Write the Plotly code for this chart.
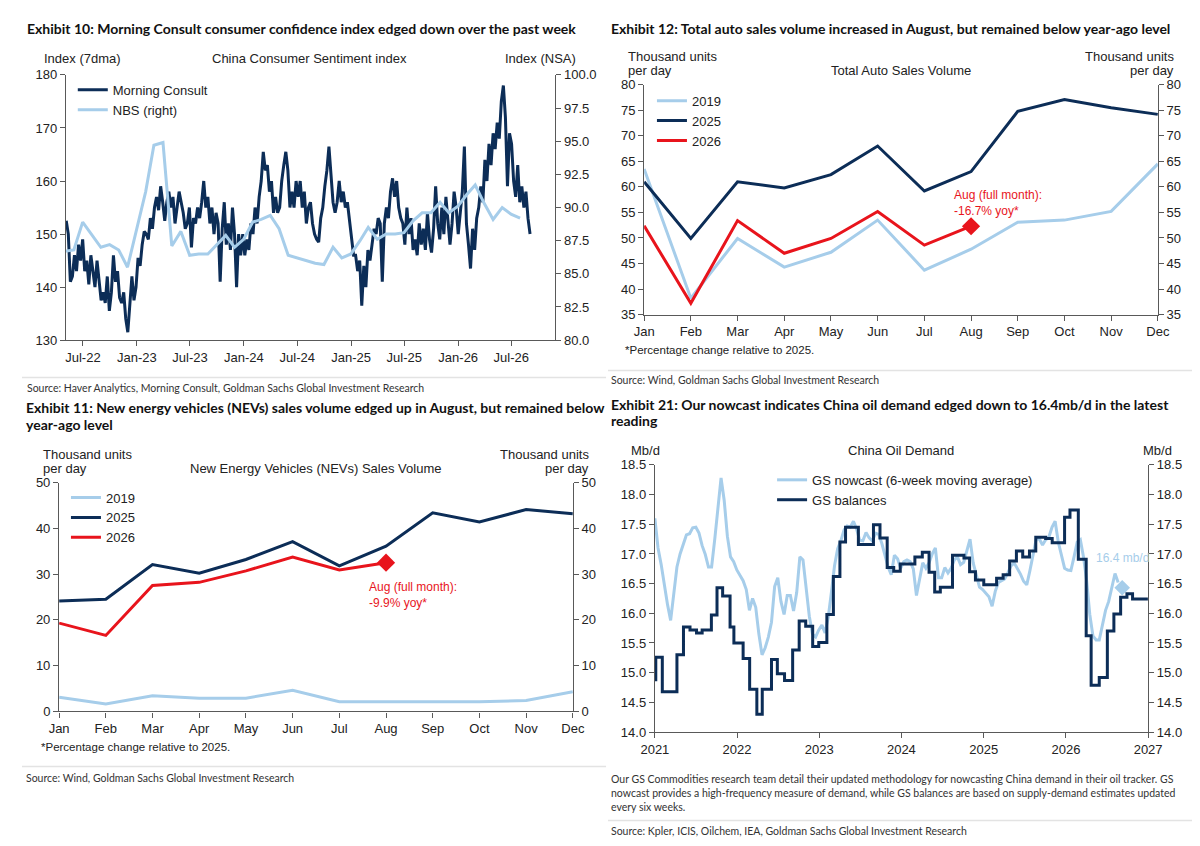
import pandas as pd
import plotly.graph_objects as go

W, H = 1200, 846
BODY = "Liberation Sans"
HEAD = "Lato"
NAVY = "#0c2d57"
LIGHT = "#a6cdea"
RED = "#e8141c"
AXC = "#595959"

# ---- Exhibit 10: China consumer sentiment ----
mc_start = "2022-05-05"  # weekly samples of the 7dma index
morning_consult = [
    152.5, 150, 141, 142, 146, 143, 148, 145,
    149, 143, 145, 140.5, 146, 143, 140, 145, 141, 137.5, 139, 137, 142,
    135.5, 139, 146, 141, 143, 138, 137, 139, 134, 131.5, 137, 142, 137.5,
    140, 145.5, 144, 148, 150.5, 150, 149, 153, 151, 155, 157, 154.5, 159,
    156, 152.5, 156, 158, 155, 157, 152, 155.5, 158, 156, 154, 151, 152,
    155, 147.5, 153, 152, 155, 153, 156, 160, 155, 157, 152, 155, 150,
    154, 152, 141, 151, 156, 148, 152, 147, 155, 150, 140, 150, 146,
    150, 146, 149, 147, 152, 150, 155, 152, 157, 160, 165.5, 162, 163,
    158, 160, 154, 157, 154, 155, 160, 163, 165.5, 162, 155, 158, 155,
    160, 157, 160, 155, 158, 152, 155, 156, 152, 150, 149, 148.5, 153,
    155, 159, 162, 166.5, 162, 156, 154, 156, 160, 156, 158, 155, 156,
    153, 149, 146, 146, 143, 145, 136.5, 144, 140, 147, 145, 148, 151,
    150, 153, 152, 141, 152, 155, 153, 158, 160.5, 157, 160, 155, 153,
    152, 148, 155, 150, 153, 147, 149, 146, 152, 148, 151, 147, 154,
    149, 146.5, 151, 159, 152, 149, 155, 150, 157, 153, 148, 152, 158,
    155, 150, 154, 158, 166.5, 152, 148, 143.5, 151, 147, 153, 155, 159,
    156, 164, 160, 167, 163, 169, 166, 171, 168, 175, 178, 172, 159, 169,
    167, 160, 157, 163, 156, 159, 155, 158, 153, 150,
]
nbs_start = "2022-04-30"  # monthly
nbs = [
    86.7, 86.8, 88.9, 87.9, 87.0, 87.2, 86.8, 85.5, 88.3,
    91.2, 94.7, 94.9, 87.1, 88.2, 86.4, 86.5, 86.5, 87.2, 87.9, 87.0, 87.6,
    88.9, 89.1, 89.4, 88.4, 86.4, 86.2, 86.0, 85.8, 85.7, 87.0, 86.2, 86.5,
    87.5, 88.5, 87.6, 88.0, 88.0, 88.1, 89.0, 89.6, 89.6, 90.4, 89.6, 90.1,
    91.0, 91.7, 90.3, 89.1, 90.0, 89.5, 89.2,
]

# ---- Exhibit 12 / 11: auto sales (thousand units per day) ----
months = ["Jan", "Feb", "Mar", "Apr", "May", "Jun", "Jul", "Aug", "Sep", "Oct", "Nov", "Dec"]
auto_2019 = [63.5, 38.2, 49.9, 44.3, 47.2, 53.5, 43.7, 47.8, 53.1, 53.5, 55.2, 64.5]
auto_2025 = [61.0, 49.9, 61.0, 59.8, 62.4, 68.0, 59.2, 63.0, 74.8, 77.1, 75.5, 74.2]
auto_2026 = [52.4, 37.2, 53.4, 47.0, 49.9, 55.2, 48.6, 52.3]
nev_2019 = [3.1, 1.6, 3.4, 2.9, 2.9, 4.6, 2.1, 2.1, 2.1, 2.1, 2.4, 4.3]
nev_2025 = [24.1, 24.5, 32.1, 30.2, 33.2, 37.1, 31.8, 36.1, 43.4, 41.4, 44.1, 43.2]
nev_2026 = [19.3, 16.6, 27.5, 28.2, 30.7, 33.7, 30.9, 32.5]

# ---- Exhibit 21: China oil demand (mb/d) ----
nowcast_start = "2021-01-01"  # two-weekly samples
nowcast = [
    17.6, 17.1, 16.82, 16.45, 16.15, 15.88, 16.37, 16.78, 17.0, 17.15,
    17.32, 17.34, 17.44, 17.45, 17.35, 17.14, 16.99, 16.78, 16.78, 17.25,
    17.75, 18.28, 17.9, 17.3, 16.95, 16.87, 16.73, 16.65, 16.55, 16.4,
    16.05, 16.25, 16.1, 15.65, 15.3, 15.42, 15.6, 15.85, 16.45, 16.6,
    16.2, 15.98, 16.3, 16.3, 16.04, 16.35, 16.95, 16.9, 16.4, 15.95,
    15.65, 15.6, 15.72, 15.8, 15.67, 15.93, 16.35, 16.8, 17.09, 17.22,
    17.4, 17.47, 17.45, 17.55, 17.42, 17.23, 17.22, 17.36, 17.27, 17.22,
    17.35, 17.33, 17.18, 16.98, 16.78, 16.65, 16.98, 16.92, 16.76, 16.87,
    16.9, 16.87, 16.75, 16.3, 16.59, 16.85, 16.76, 16.85, 17.0, 17.1,
    16.6, 16.6, 16.77, 16.68, 16.76, 16.9, 16.95, 16.82, 16.86, 17.05,
    17.25, 16.85, 16.65, 16.44, 16.4, 16.34, 16.28, 16.12, 16.37, 16.52,
    16.55, 16.58, 16.68, 16.8, 16.85, 16.76, 16.66, 16.54, 16.48, 16.72,
    17.0, 17.25, 17.25, 17.15, 17.24, 17.28, 17.45, 17.55, 17.2, 16.95,
    16.76, 16.73, 16.72, 16.95, 17.2, 17.24, 16.95, 16.55, 15.98, 15.62,
    15.55, 15.55, 15.8, 16.05, 16.2, 16.45, 16.67, 16.52,
]
latest_date = ["2026-09-08"]
latest_value = [16.43]
balance_dates = [
    "2021-01-01", "2021-01-05", "2021-02-03", "2021-04-09", "2021-05-08", "2021-06-06",
    "2021-07-05", "2021-07-30", "2021-09-09", "2021-10-04", "2021-10-29", "2021-12-01",
    "2021-12-18", "2022-01-28", "2022-02-26", "2022-03-30", "2022-04-23", "2022-06-03",
    "2022-06-29", "2022-07-31", "2022-09-05", "2022-10-04", "2022-11-02", "2022-12-03",
    "2022-12-30", "2023-02-04", "2023-03-05", "2023-04-03", "2023-04-28", "2023-06-24",
    "2023-08-30", "2023-09-28", "2023-10-30", "2023-11-28", "2023-12-27", "2024-03-01",
    "2024-04-03", "2024-05-03", "2024-05-28", "2024-06-22", "2024-08-15", "2024-10-05",
    "2024-10-30", "2024-11-25", "2025-01-01", "2025-02-27", "2025-03-28", "2025-04-26",
    "2025-05-26", "2025-06-23", "2025-07-23", "2025-08-20", "2025-10-03", "2025-11-01",
    "2025-12-26", "2026-01-19", "2026-02-25", "2026-04-01", "2026-04-23", "2026-05-29",
    "2026-07-04", "2026-08-02", "2026-09-01", "2026-09-29", "2026-10-24", "2026-12-31",
]
balance_values = [
    14.88, 15.26, 14.68, 15.3, 15.77, 15.72,
    15.67, 15.72, 15.97, 16.43, 16.29, 15.77,
    15.5, 15.24, 14.72, 14.3, 14.72, 15.22,
    14.98, 14.87, 15.38, 15.87, 15.78, 15.44,
    15.51, 15.98, 16.62, 17.2, 17.45, 17.16,
    17.49, 17.27, 16.77, 16.71, 16.83, 16.95,
    17.03, 16.69, 16.36, 16.44, 16.98, 16.93,
    16.7, 16.56, 16.48, 16.59, 16.65, 16.88,
    17.05, 16.95, 17.05, 17.28, 17.26, 17.19,
    17.62, 17.74, 16.91, 15.62, 14.79, 14.92,
    15.7, 15.99, 16.27, 16.33, 16.24, 16.24,
]


def px(x):
    return x / W


def py(y):
    return 1 - y / H


fig = go.Figure()

mc_dates = pd.date_range(mc_start, periods=len(morning_consult), freq="7D")
nbs_dates = pd.date_range(nbs_start, periods=len(nbs), freq="ME")
now_dates = pd.date_range(nowcast_start, periods=len(nowcast), freq="14D")

# Exhibit 10
fig.add_trace(go.Scatter(x=mc_dates, y=morning_consult, name="Morning Consult", mode="lines",
                         line=dict(color=NAVY, width=3), xaxis="x", yaxis="y", legend="legend"))
fig.add_trace(go.Scatter(x=nbs_dates, y=nbs, name="NBS (right)", mode="lines",
                         line=dict(color=LIGHT, width=3), xaxis="x", yaxis="y2", legend="legend"))

# Exhibit 12
fig.add_trace(go.Scatter(x=months, y=auto_2019, name="2019", mode="lines",
                         line=dict(color=LIGHT, width=3), xaxis="x2", yaxis="y3", legend="legend2"))
fig.add_trace(go.Scatter(x=months, y=auto_2025, name="2025", mode="lines",
                         line=dict(color=NAVY, width=3), xaxis="x2", yaxis="y3", legend="legend2"))
fig.add_trace(go.Scatter(x=months[:len(auto_2026)], y=auto_2026, name="2026", mode="lines",
                         line=dict(color=RED, width=3), xaxis="x2", yaxis="y4", legend="legend2"))
fig.add_trace(go.Scatter(x=[months[len(auto_2026) - 1]], y=[auto_2026[-1]], mode="markers",
                         marker=dict(symbol="diamond", size=14, color=RED), showlegend=False,
                         xaxis="x2", yaxis="y4", cliponaxis=False))

# Exhibit 11
fig.add_trace(go.Scatter(x=months, y=nev_2019, name="2019", mode="lines",
                         line=dict(color=LIGHT, width=3), xaxis="x3", yaxis="y5", legend="legend3"))
fig.add_trace(go.Scatter(x=months, y=nev_2025, name="2025", mode="lines",
                         line=dict(color=NAVY, width=3), xaxis="x3", yaxis="y5", legend="legend3"))
fig.add_trace(go.Scatter(x=months[:len(nev_2026)], y=nev_2026, name="2026", mode="lines",
                         line=dict(color=RED, width=3), xaxis="x3", yaxis="y6", legend="legend3"))
fig.add_trace(go.Scatter(x=[months[len(nev_2026) - 1]], y=[nev_2026[-1]], mode="markers",
                         marker=dict(symbol="diamond", size=14, color=RED), showlegend=False,
                         xaxis="x3", yaxis="y6", cliponaxis=False))

# Exhibit 21
fig.add_trace(go.Scatter(x=now_dates, y=nowcast, name="GS nowcast (6-week moving average)", mode="lines",
                         line=dict(color=LIGHT, width=3), xaxis="x4", yaxis="y7", legend="legend4"))
fig.add_trace(go.Scatter(x=latest_date, y=latest_value, mode="markers", showlegend=False,
                         marker=dict(symbol="diamond", size=12, color=LIGHT), xaxis="x4", yaxis="y7"))
fig.add_trace(go.Scatter(x=balance_dates, y=balance_values, name="GS balances", mode="lines",
                         line=dict(color=NAVY, width=3, shape="hv"), xaxis="x4", yaxis="y8", legend="legend4"))

tickfont = dict(family=BODY, size=13, color="#222")
base = dict(showline=True, linecolor=AXC, linewidth=1.3, ticks="outside", ticklen=5,
            tickcolor=AXC, showgrid=False, zeroline=False, tickfont=tickfont, fixedrange=True)


def yrng(top, bottom):
    return [py(bottom), py(top)]


fig.update_layout(
    width=W, height=H, margin=dict(l=0, r=0, t=0, b=0),
    paper_bgcolor="white", plot_bgcolor="white",
    xaxis=dict(base, domain=[px(45), px(546)], anchor="y", type="date",
               range=["2022-05-04", "2026-11-28"], dtick="M6", tick0="2022-07-01", tickformat="%b-%y"),
    yaxis=dict(base, domain=yrng(61, 331), anchor="x", range=[130, 180], dtick=10),
    yaxis2=dict(base, overlaying="y", side="right", anchor="x", range=[80, 100], dtick=2.5,
                tickformat=".1f"),
    xaxis2=dict(base, domain=[px(637), px(1163)], anchor="y3", type="category", range=[0, 11]),
    yaxis3=dict(base, domain=yrng(71, 305), anchor="x2", range=[35, 80], dtick=5),
    yaxis4=dict(base, overlaying="y3", side="right", anchor="x2", range=[35, 80], dtick=5),
    xaxis3=dict(base, domain=[px(38), px(564)], anchor="y5", type="category", range=[0, 11]),
    yaxis5=dict(base, domain=yrng(476, 709), anchor="x3", range=[0, 50], dtick=10),
    yaxis6=dict(base, overlaying="y5", side="right", anchor="x3", range=[0, 50], dtick=10),
    xaxis4=dict(base, domain=[px(648), px(1153)], anchor="y7", type="date",
                range=["2021-01-01", "2027-01-01"], dtick="M12", tick0="2021-01-01", tickformat="%Y"),
    yaxis7=dict(base, domain=yrng(458, 730), anchor="x4", range=[14, 18.5], dtick=0.5, tickformat=".1f"),
    yaxis8=dict(base, overlaying="y7", side="right", anchor="x4", range=[14, 18.5], dtick=0.5,
                tickformat=".1f"),
)

leg = dict(xanchor="left", yanchor="top", bgcolor="rgba(0,0,0,0)", tracegroupgap=0, itemwidth=30,
           font=dict(family=BODY, size=13, color="#222"))
fig.update_layout(
    legend=dict(leg, x=px(52), y=py(61)),
    legend2=dict(leg, x=px(645), y=py(72)),
    legend3=dict(leg, x=px(45), y=py(476)),
    legend4=dict(leg, x=px(768), y=py(458)),
)


def txt(x, y, s, size=13, anchor="left", color="#222", family=BODY):
    fig.add_annotation(x=px(x), y=py(y), xref="paper", yref="paper", text=s, showarrow=False,
                       xanchor=anchor, yanchor="middle", align=anchor if anchor != "center" else "center",
                       font=dict(family=family, size=size, color=color))


def head(x, y, s):
    txt(x, y, "<b>" + s + "</b>", size=14, color="#111", family=HEAD)


def note(x, y, s):
    txt(x, y, s, size=10.5, color="#333", family=HEAD)


# titles
head(3, 14, "Exhibit 10: Morning Consult consumer confidence index edged down over the past week")
head(601, 14, "Exhibit 12: Total auto sales volume increased in August, but remained below year-ago level")
head(2, 400, "Exhibit 11: New energy vehicles (NEVs) sales volume edged up in August, but remained below")
head(2, 417, "year-ago level")
head(601, 397, "Exhibit 21: Our nowcast indicates China oil demand edged down to 16.4mb/d in the latest")
head(601, 413, "reading")

# panel headers
txt(20, 44, "Index (7dma)")
txt(294, 44, "China Consumer Sentiment index", anchor="center")
txt(569, 44, "Index (NSA)", anchor="right")

txt(618, 42, "Thousand units")
txt(618, 57, "per day")
txt(900, 57, "Total Auto Sales Volume", anchor="center")
txt(1182, 42, "Thousand units", anchor="right")
txt(1182, 57, "per day", anchor="right")

txt(19, 447, "Thousand units")
txt(19, 462, "per day")
txt(300, 462, "New Energy Vehicles (NEVs) Sales Volume", anchor="center")
txt(583, 447, "Thousand units", anchor="right")
txt(583, 462, "per day", anchor="right")

txt(621, 443, "Mb/d")
txt(900, 443, "China Oil Demand", anchor="center")
txt(1180, 443, "Mb/d", anchor="right")

# callouts
txt(952, 191, "Aug (full month):<br>-16.7% yoy*", size=12, color=RED)
txt(353, 590, "Aug (full month):<br>-9.9% yoy*", size=12, color=RED)
txt(1098, 553, "16.4 mb/d", size=12, color=LIGHT)

# footnotes and sources
txt(615, 341, "*Percentage change relative to 2025.", size=11.5)
txt(17, 745, "*Percentage change relative to 2025.", size=11.5)
note(3, 380, "Source: Haver Analytics, Morning Consult, Goldman Sachs Global Investment Research")
note(601, 372, "Source: Wind, Goldman Sachs Global Investment Research")
note(2, 777, "Source: Wind, Goldman Sachs Global Investment Research")
note(601, 778, "Our GS Commodities research team detail their updated methodology for nowcasting China demand in their oil tracker. GS")
note(601, 792, "nowcast provides a high-frequency measure of demand, while GS balances are based on supply-demand estimates updated")
note(601, 806, "every six weeks.")
note(601, 831, "Source: Kpler, ICIS, Oilchem, IEA, Goldman Sachs Global Investment Research")

for x0, x1, y in [(0, 598, 369), (600, 1200, 362), (0, 598, 765), (600, 1200, 820)]:
    fig.add_shape(type="line", xref="paper", yref="paper", x0=px(x0), x1=px(x1), y0=py(y), y1=py(y),
                  line=dict(color="#e3e3e3", width=1.5))

fig.write_html("out.html")
